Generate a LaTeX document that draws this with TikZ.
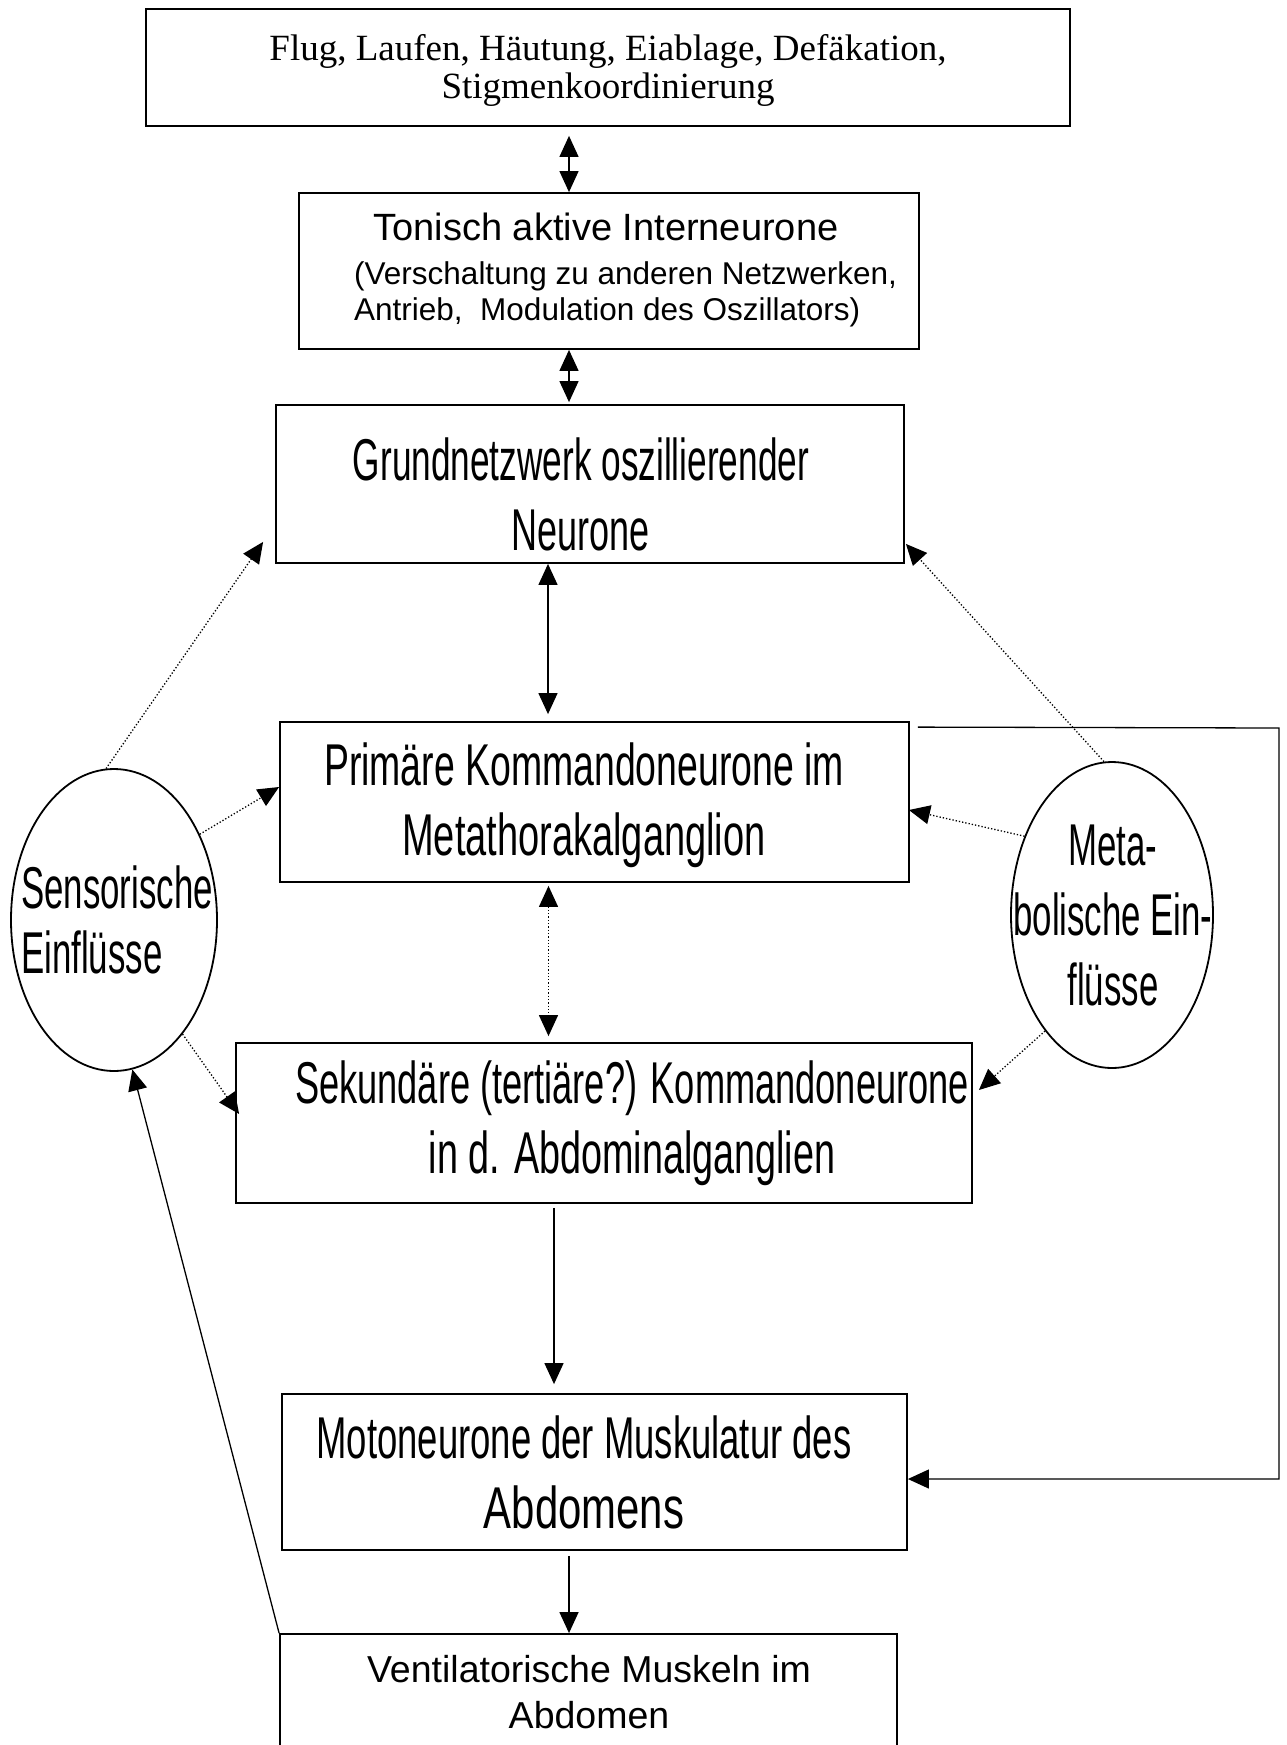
\documentclass[tikz,border=0pt]{standalone}
\usepackage{fontspec}
\setmainfont{Liberation Serif}
\newfontfamily\plainsans{Liberation Sans}
\newfontfamily\narrowsans{Liberation Sans}
\newcommand\squeeze[2]{{\addfontfeature{FakeStretch=#1}#2}}
\usetikzlibrary{calc}
\usetikzlibrary{shapes,arrows.meta}

\tikzset{
  box/.style={draw, line width=1.8pt, inner sep=0pt},
  bigtext/.style={align=center, font=\narrowsans\fontsize{59}{70}\selectfont\addfontfeature{FakeStretch=0.59}},
  midtext/.style={align=center, font=\plainsans\fontsize{37.5}{46}\selectfont},
  blob/.style={draw, ellipse, line width=1.8pt, inner sep=0pt},
  tip/.style={line width=1.3pt, -{Triangle[length=21pt,width=19pt]}},
  twotips/.style={line width=1.3pt, {Triangle[length=21pt,width=19pt]}-{Triangle[length=21pt,width=19pt]}},
  dotline/.style={line width=1.3pt, dash pattern=on 1.3pt off 2pt},
}

\begin{document}
\begin{tikzpicture}[x=1pt, y=-1pt]
    \useasboundingbox (0,0) rectangle (1287,1745);

    % boxes, top to bottom
    \node[box, minimum width=924pt, minimum height=117pt] (top) at (608,67.5) {};
    \node[align=center, font=\fontsize{37}{38}\selectfont] (toptext) at (608,70)
        {Flug, Laufen, Häutung, Eiablage, Defäkation,\\Stigmenkoordinierung};

    \node[box, minimum width=620pt, minimum height=156pt] (tonisch) at (609,271) {};
    \node[inner sep=0pt, anchor=base, font=\plainsans\fontsize{38}{41}\selectfont] (tonischtitle) at (606,240)
        {Tonisch aktive Interneurone};
    \node[inner sep=0pt, anchor=north west, align=left, font=\plainsans\fontsize{31.5}{36}\selectfont] (tonischtext) at (354,261.3)
        {(Verschaltung zu anderen Netzwerken,\\Antrieb,\ \ Modulation des Oszillators)};

    \node[box, minimum width=628pt, minimum height=158pt] (grund) at (590,484) {};
    \node[bigtext] (grundtext) at (581,494)
        {\squeeze{0.597}{Grundnetzwerk oszillierender}\\\squeeze{0.61}{Neurone}};

    \node[box, minimum width=629pt, minimum height=160pt] (prim) at (594.5,802) {};
    \node[bigtext] (primtext) at (584,805)
        {\squeeze{0.634}{Primäre Kommandoneurone im}\\\squeeze{0.644}{Metathorakalganglion}};

    \node[box, minimum width=736pt, minimum height=160pt] (sek) at (604,1123) {};
    \node[bigtext] (sektext) at (632,1123)
        {\squeeze{0.614}{Sekundäre (tertiäre?) Kommandoneurone}\\\squeeze{0.64}{in d. Abdominalganglien}};

    \node[box, minimum width=625pt, minimum height=156pt] (moto) at (594.5,1472) {};
    \node[bigtext] (mototext) at (584,1472)
        {\squeeze{0.618}{Motoneurone der Muskulatur des}\\\squeeze{0.71}{Abdomens}};

    \node[box, minimum width=617pt, minimum height=150pt] (vent) at (588.5,1709) {};
    \node[midtext] (venttext) at (589,1692)
        {Ventilatorische Muskeln im\\Abdomen};

    % the two side influences
    \node[blob, minimum width=206pt, minimum height=302pt] (sens) at (114,920) {};
    \node[bigtext, align=left, font=\narrowsans\fontsize{59}{65}\selectfont\addfontfeature{FakeStretch=0.59}] (senstext) at (117,920)
        {Sensorische\\Einflüsse};
    \node[blob, minimum width=202pt, minimum height=306pt] (meta) at (1112,915) {};
    \node[bigtext] (metatext) at (1113,915)
        {Meta-\\bolische Ein-\\flüsse};

    % main chain
    \draw[twotips] ($(top.south)+(-39,9)$) -- ($(tonisch.north)+(-40,0)$);
    \draw[twotips] ($(tonisch.south)+(-40,0)$) -- ($(grund.north)+(-21,-2)$);
    \draw[twotips] ($(grund.south)+(-42,0)$) -- ($(prim.north)+(-46.5,-7)$);
    \draw[twotips, dotline] ($(prim.south)+(-46,3)$) -- ($(sek.north)+(-55.5,-6)$);
    \draw[tip] ($(sek.south)+(-50,4)$) -- ($(moto.north)+(-40.5,-9)$);
    \draw[tip] ($(moto.south)+(-25.5,5)$) -- ($(vent.north)+(-19.5,0)$);

    % bypass on the right
    \coordinate (bypass) at ($(prim.north east)+(8,6)$);
    \draw[tip] (bypass) -- (1279,728) |- ($(moto.east)+(0,7)$);

    % feedback from the muscles
    \draw[tip] (vent.north west) -- (sens.-83);

    % sensory inputs
    \draw[tip, dotline] (sens.93) -- ($(grund.south west)+(-12,-22)$);
    \draw[tip, dotline] (sens.45) -- ($(prim.west)+(0,-15)$);
    \draw[tip, dotline] (sens.-59) -- ($(sek.west)+(4,-9)$);

    % metabolic inputs
    \draw[tip, dotline] (meta.93) -- ($(grund.south east)+(1,-20)$);
    \draw[tip, dotline] (meta.138) -- ($(prim.east)+(-1,8)$);
    \draw[tip, dotline] (meta.240) -- ($(sek.east)+(6,-33)$);

\end{tikzpicture}
\end{document}
